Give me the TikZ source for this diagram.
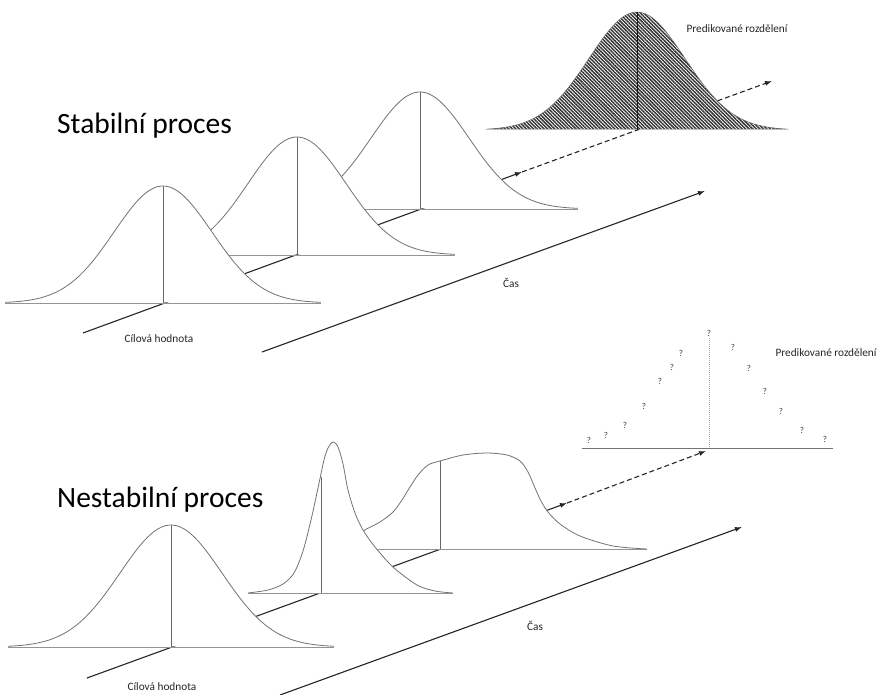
\documentclass[tikz,border=0pt]{standalone}
\usepackage{fontspec}
\setmainfont{Carlito}
\usetikzlibrary{arrows.meta,patterns.meta}

% bell curve: centre x, baseline y, height, sigma, half-span in sigmas
\newcommand\bellpath[5]{plot[domain=-#5:#5, samples=90, smooth] ({#1+#4*\x},{#2-#3*exp(-0.5*\x*\x)})}

\tikzset{
  x=1pt, y=-1pt,
  curve/.style={draw=black!55, line width=0.8pt},
  base/.style={draw=black!42, line width=1pt},
  stem/.style={draw=black!60, line width=0.8pt},
  axisline/.style={draw=black!85, line width=1.1pt},
  tip/.style={-{Latex[length=7pt,width=5pt]}},
  futureline/.style={axisline, dash pattern=on 5pt off 3pt},
  small/.style={font=\fontsize{11.3}{13}\selectfont, text=black!85, inner sep=0pt},
  title/.style={font=\fontsize{29.5}{34}\selectfont, anchor=base west, inner sep=0pt},
  qmark/.style={font=\fontsize{9}{10}\selectfont, text=black!75, inner sep=0pt},
}

\begin{document}
\begin{tikzpicture}
\useasboundingbox (0,0) rectangle (885,695);
\fill[white] (0,0) rectangle (885,695);

% ================= stable process =================
\coordinate (sa0) at (83,333);
\coordinate (s1c) at (163,303);  \coordinate (s1p) at (163,186);
\coordinate (s2c) at (297,255);  \coordinate (s2p) at (297,137);
\coordinate (s3c) at (420,209);  \coordinate (s3p) at (420,92);
\coordinate (sarr) at (522,172);
\coordinate (spc) at (637,130);  \coordinate (spp) at (637,12);
\coordinate (sfar) at (772,81);
\coordinate (st0) at (262,352);  \coordinate (st1) at (705,191);

% target-value axis and its extrapolation
\draw[axisline, tip] (sa0) -- (sarr);
\draw[futureline, tip] (sarr) -- (sfar);

% predicted distribution (hatched)
\fill[white] \bellpath{637}{130}{118}{48}{3.15} -- cycle;
\path[pattern={Lines[angle=-45, distance=2.5pt, line width=1.45pt]}, pattern color=black!80]
  \bellpath{637}{130}{118}{48}{3.15} -- cycle;
\draw[draw=black!60, line width=0.5pt] \bellpath{637}{130}{118}{48}{3.15} -- cycle;
\draw[draw=black!90, line width=0.8pt] (spp) -- (spc);

% third curve
\fill[white] \bellpath{420}{209}{117}{49}{3.22} -- cycle;
\draw[base] (262,209) -- (578,209);
\draw[curve] \bellpath{420}{209}{117}{49}{3.22};
\draw[stem] (s3p) -- (s3c);

% second curve
\fill[white] \bellpath{297}{255}{118}{49}{3.22} -- cycle;
\draw[base] (139,255) -- (455,255);
\draw[curve] \bellpath{297}{255}{118}{49}{3.22};
\draw[stem] (s2p) -- (s2c);

% first curve
\fill[white] \bellpath{163}{303}{117}{49}{3.22} -- cycle;
\draw[base] (5,303) -- (321,303);
\draw[curve] \bellpath{163}{303}{117}{49}{3.22};
\draw[stem] (s1p) -- (s1c);

% time axis
\draw[axisline, tip] (st0) -- (st1);

\node[title] (stitle) at (57,134) {Stabilní proces};
\node[small] (starget) at (159,339) {Cílová hodnota};
\node[small] (stime) at (511,283) {Čas};
\node[small] (spred) at (737,29) {Predikované rozdělení};

% ================= unstable process =================
\coordinate (ua0) at (87,678);
\coordinate (u1c) at (171,647);  \coordinate (u1p) at (171,525);
\coordinate (u2c) at (321,593);  \coordinate (u2p) at (321,477);
\coordinate (u3c) at (440,549);  \coordinate (u3p) at (440,461);
\coordinate (uarr) at (567,503);
\coordinate (upc) at (706,451);
\coordinate (ub0) at (582,448);  \coordinate (ub1) at (833,448);
\coordinate (uvt) at (709,338);  \coordinate (uvb) at (709,448);
\coordinate (ut0) at (280,695);  \coordinate (ut1) at (742,527);

% target-value axis and its extrapolation
\draw[axisline, tip] (ua0) -- (uarr);
\draw[futureline, tip] (uarr) -- (upc);

% unknown predicted distribution
\draw[draw=black!55, line width=1pt] (ub0) -- (ub1);
\draw[draw=black!35, line width=0.6pt, dash pattern=on 1pt off 1pt] (uvt) -- (uvb);
\foreach \qx/\qy [count=\i] in {709/333, 733/347, 681/353, 672/367, 749/368, 660/381,
    765/391, 644/406, 781/411, 625/425, 802/430, 606/435, 825/439, 589/440}
  \node[qmark] (q\i) at (\qx,\qy) {?};

% flat-topped curve
\fill[white] plot[smooth] coordinates {(330,549) (348,543) (363,531) (380,522) (393,512)
  (402,500) (410,487) (418,475) (428,465) (440,461) (463,455) (487,453) (507,455)
  (520,461) (528,472) (535,488) (541,501) (548,512) (560,524) (580,536) (613,546) (647,549)} -- cycle;
\draw[base] (330,549) -- (647,549);
\draw[curve] plot[smooth] coordinates {(330,549) (348,543) (363,531) (380,522) (393,512)
  (402,500) (410,487) (418,475) (428,465) (440,461) (463,455) (487,453) (507,455)
  (520,461) (528,472) (535,488) (541,501) (548,512) (560,524) (580,536) (613,546) (647,549)};
\draw[stem] (u3p) -- (u3c);

% narrow skewed curve
\fill[white] plot[smooth] coordinates {(248,593) (268,590) (283,584) (294,573) (303,551)
  (311,520) (318,488) (324,460) (328,448) (333,442) (338,447) (343,464) (348,490)
  (355,513) (363,530) (375,547) (393,567) (417,585) (435,591) (453,593)} -- cycle;
\draw[base] (248,593) -- (453,593);
\draw[curve] plot[smooth] coordinates {(248,593) (268,590) (283,584) (294,573) (303,551)
  (311,520) (318,488) (324,460) (328,448) (333,442) (338,447) (343,464) (348,490)
  (355,513) (363,530) (375,547) (393,567) (417,585) (435,591) (453,593)};
\draw[stem] (u2p) -- (u2c);

% first curve
\fill[white] \bellpath{171}{647}{122}{51}{3.2} -- cycle;
\draw[base] (8,647) -- (334,647);
\draw[curve] \bellpath{171}{647}{122}{51}{3.2};
\draw[stem] (u1p) -- (u1c);

% time axis
\draw[axisline, tip] (ut0) -- (ut1);

\node[title] (utitle) at (57,507) {Nestabilní proces};
\node[small] (utarget) at (162,687) {Cílová hodnota};
\node[small] (utime) at (535,626) {Čas};
\node[small] (upred) at (826,353) {Predikované rozdělení};
\end{tikzpicture}
\end{document}
